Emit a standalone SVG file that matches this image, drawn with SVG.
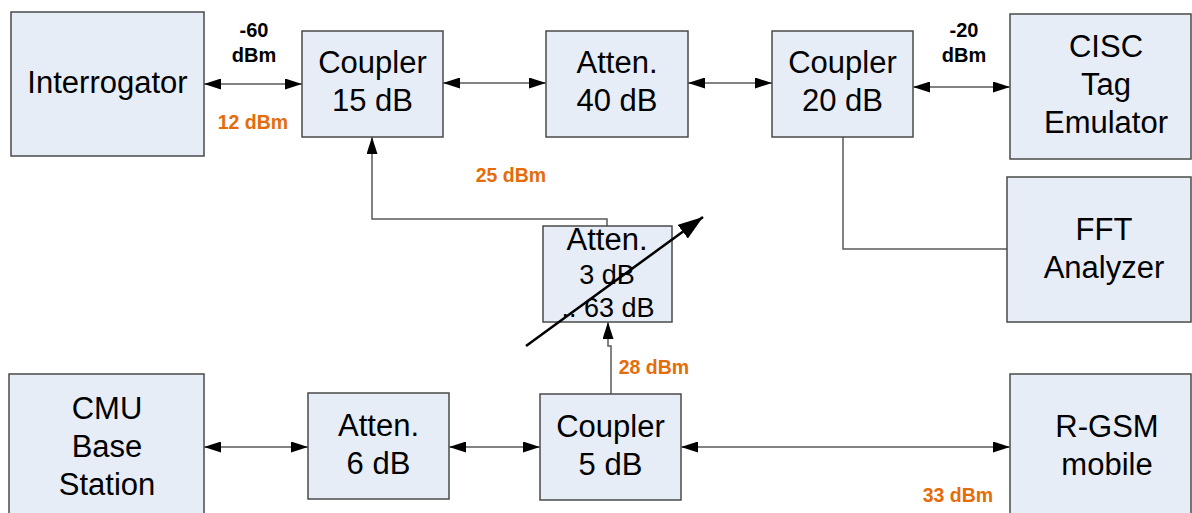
<svg xmlns="http://www.w3.org/2000/svg" width="1192" height="513" viewBox="0 0 1192 513">
<style>
.box{fill:#E7EDF7;stroke:#4a4a4a;stroke-width:1.5}
.t{font-family:"Liberation Sans",Arial,sans-serif;font-size:31px;fill:#000;text-anchor:middle}
.s{font-size:27px}
.lb{font-family:"Liberation Sans",Arial,sans-serif;font-weight:bold;font-size:20px;fill:#000;text-anchor:middle}
.or{font-family:"Liberation Sans",Arial,sans-serif;font-weight:bold;font-size:19.5px;fill:#E46C0A;text-anchor:middle}
.c{fill:none;stroke:#5a5a5a;stroke-width:1.5}
.ar{marker-end:url(#ah)}
.da{marker-start:url(#ah);marker-end:url(#ah)}
</style>
<defs>
<marker id="ah" viewBox="0 0 17 11" refX="17" refY="5.5" markerWidth="17" markerHeight="11" markerUnits="userSpaceOnUse" orient="auto-start-reverse">
<path d="M0,0 L17,5.5 L0,11 z" fill="#000"/>
</marker>
<marker id="big" viewBox="0 0 25 17" refX="25" refY="8.5" markerWidth="25" markerHeight="17" markerUnits="userSpaceOnUse" orient="auto">
<path d="M0,0 L25,8.5 L0,17 z" fill="#000"/>
</marker>
</defs>

<g id="connectors">
<line class="c da" x1="204" y1="84" x2="302" y2="84"/>
<line class="c da" x1="443" y1="83" x2="546" y2="83"/>
<line class="c da" x1="688" y1="83" x2="772" y2="83"/>
<line class="c da" x1="913" y1="87" x2="1010" y2="87"/>
<polyline class="c" points="843,137 843,249 1007,249"/>
<polyline class="c ar" points="607,226 607,219 372,219 372,137"/>
<polyline class="c ar" points="611,394 611,346 608,346 608,322"/>
<line class="c da" x1="204" y1="447" x2="308" y2="447"/>
<line class="c da" x1="449" y1="447" x2="540" y2="447"/>
<line class="c da" x1="681" y1="447" x2="1010" y2="447"/>
</g>

<g id="interrogator">
<rect class="box" x="11" y="12" width="193" height="144"/>
<text class="t" x="107.5" y="93">Interrogator</text>
</g>
<g id="coupler15">
<rect class="box" x="302" y="31" width="141" height="106"/>
<text class="t" x="372.5" y="73">Coupler</text>
<text class="t" x="372.5" y="111">15 dB</text>
</g>
<g id="atten40">
<rect class="box" x="546" y="31" width="142" height="106"/>
<text class="t" x="617" y="73">Atten.</text>
<text class="t" x="617" y="111">40 dB</text>
</g>
<g id="coupler20">
<rect class="box" x="772" y="31" width="141" height="106"/>
<text class="t" x="842.5" y="73">Coupler</text>
<text class="t" x="842.5" y="111">20 dB</text>
</g>
<g id="cisc">
<rect class="box" x="1010" y="14" width="181" height="145"/>
<text class="t" x="1106" y="57">CISC</text>
<text class="t" x="1106" y="95">Tag</text>
<text class="t" x="1106" y="133">Emulator</text>
</g>
<g id="fft">
<rect class="box" x="1007" y="177" width="184" height="145"/>
<text class="t" x="1104" y="240">FFT</text>
<text class="t" x="1104" y="278">Analyzer</text>
</g>
<g id="attenvar">
<rect class="box" x="543" y="226" width="129" height="96"/>
<text class="t" x="607" y="250">Atten.</text>
<text class="t s" x="607" y="284">3 dB</text>
<text class="t s" x="608" y="317">.. 63 dB</text>
<line x1="526" y1="346" x2="703" y2="217" stroke="#000" stroke-width="2.5" marker-end="url(#big)"/>
</g>
<g id="cmu">
<rect class="box" x="9" y="374" width="195" height="150"/>
<text class="t" x="107" y="419">CMU</text>
<text class="t" x="107" y="457">Base</text>
<text class="t" x="107" y="495">Station</text>
</g>
<g id="atten6">
<rect class="box" x="308" y="393" width="141" height="106"/>
<text class="t" x="378.5" y="436">Atten.</text>
<text class="t" x="378.5" y="474">6 dB</text>
</g>
<g id="coupler5">
<rect class="box" x="540" y="394" width="141" height="106"/>
<text class="t" x="610.5" y="437">Coupler</text>
<text class="t" x="610.5" y="475">5 dB</text>
</g>
<g id="rgsm">
<rect class="box" x="1010" y="374" width="181" height="150"/>
<text class="t" x="1107" y="437">R-GSM</text>
<text class="t" x="1107" y="475">mobile</text>
</g>

<g id="labels">
<text class="lb" x="254" y="37">-60</text>
<text class="lb" x="254" y="62">dBm</text>
<text class="lb" x="964" y="37">-20</text>
<text class="lb" x="964" y="62">dBm</text>
<text class="or" x="253" y="129">12 dBm</text>
<text class="or" x="511" y="182">25 dBm</text>
<text class="or" x="654" y="374">28 dBm</text>
<text class="or" x="958" y="502">33 dBm</text>
</g>
</svg>
